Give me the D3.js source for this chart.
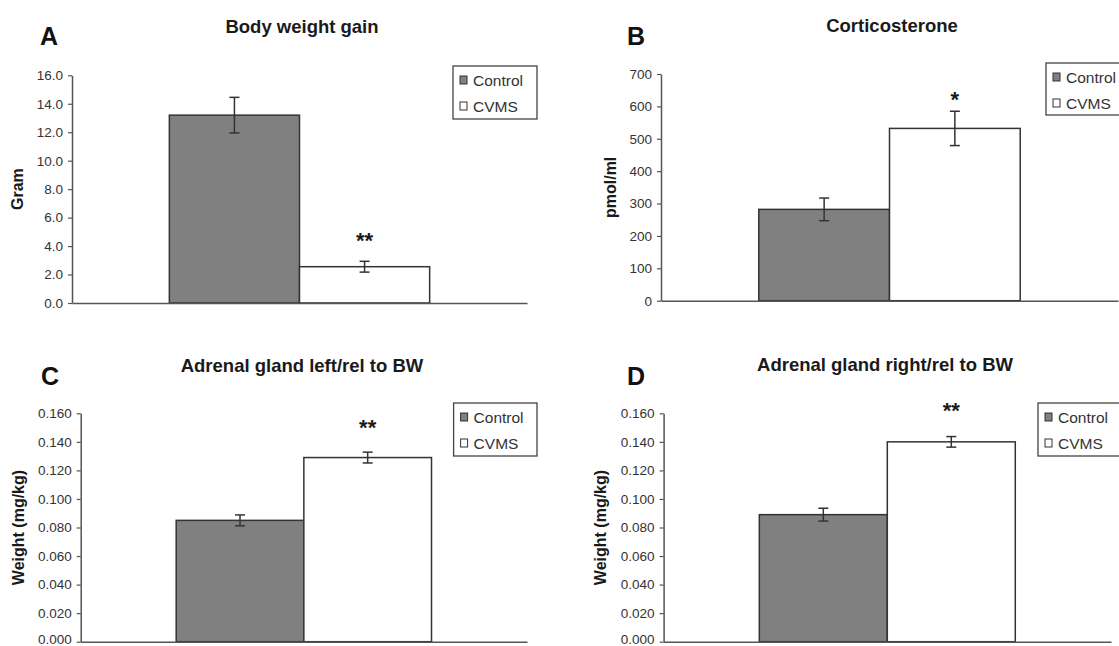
<!DOCTYPE html>
<html><head><meta charset="utf-8">
<script src="https://cdn.jsdelivr.net/npm/d3@7"></script>
<style>
html,body{margin:0;padding:0;background:#fff;}
svg{display:block;font-family:"Liberation Sans",Arial,sans-serif;}
</style></head>
<body>
<svg id="chart" width="1119" height="646"></svg>
<script>
// ---------- DATA ----------
const categories = ["Control", "CVMS"];

const bwGain    = [13.2, 2.55];
const bwGainErr = [1.25, 0.38];

const cort    = [282, 532];
const cortErr = [35, 53];

const adrLeft    = [0.085, 0.129];
const adrLeftErr = [0.0038, 0.0038];

const adrRight    = [0.089, 0.140];
const adrRightErr = [0.0045, 0.0037];

const ticksA = [0, 2, 4, 6, 8, 10, 12, 14, 16];
const ticksB = [0, 100, 200, 300, 400, 500, 600, 700];
const ticksC = [0, 0.02, 0.04, 0.06, 0.08, 0.10, 0.12, 0.14, 0.16];
const ticksD = [0, 0.02, 0.04, 0.06, 0.08, 0.10, 0.12, 0.14, 0.16];

const panelLetters = ["A", "B", "C", "D"];
const panelTitles = ["Body weight gain", "Corticosterone", "Adrenal gland left/rel to BW", "Adrenal gland right/rel to BW"];
const yLabels = ["Gram", "pmol/ml", "Weight (mg/kg)", "Weight (mg/kg)"];
const sigLabels = ["**", "*", "**", "**"];
const sigLevels = [4.8, 638, 0.1537, 0.1656];

// ---------- LAYOUT ----------
const panels = [
  {values: bwGain, errs: bwGainErr, ticks: ticksA, fmt: ".1f",
   L: {ax: 72, right: 527, top: 75.3, bot: 303, tx: 302, ty: 33, lx: 40, ly: 45, ylx: 17.5, lg: [453, 66, 84, 53]}},
  {values: cort, errs: cortErr, ticks: ticksB, fmt: "d",
   L: {ax: 661, right: 1118, top: 74, bot: 300.7, tx: 892, ty: 31.5, lx: 627, ly: 45, ylx: 610, lg: [1046, 63, 84, 52]}},
  {values: adrLeft, errs: adrLeftErr, ticks: ticksC, fmt: ".3f",
   L: {ax: 80.7, right: 527, top: 413.3, bot: 641.7, tx: 302, ty: 371.5, lx: 41, ly: 385, ylx: 18.5, lg: [453.6, 403, 83.4, 53]}},
  {values: adrRight, errs: adrRightErr, ticks: ticksD, fmt: ".3f",
   L: {ax: 663.6, right: 1111, top: 413.3, bot: 641.7, tx: 885, ty: 370.5, lx: 627, ly: 385, ylx: 600, lg: [1038, 403, 84, 53]}}
];

const fills = ["#808080", "#ffffff"];
const stroke = "#333";
const textCol = "#1a1a1a";

const svg = d3.select("#chart");

panels.forEach((p, i) => {
  const L = p.L;
  const g = svg.append("g");
  const y = d3.scaleLinear().domain([0, d3.max(p.ticks)]).range([L.bot, L.top]);
  const group = d3.scaleBand().domain(["g"]).range([L.ax, L.right]).paddingInner(0).paddingOuter(0.374);
  const x = d3.scaleBand().domain(categories).range([group("g"), group("g") + group.bandwidth()]).padding(0);

  // bars
  g.selectAll("rect.bar").data(categories).join("rect")
    .attr("class", "bar")
    .attr("x", d => x(d))
    .attr("y", (d, j) => y(p.values[j]))
    .attr("width", x.bandwidth())
    .attr("height", (d, j) => y(0) - y(p.values[j]))
    .attr("fill", (d, j) => fills[j])
    .attr("stroke", stroke).attr("stroke-width", 1.5);

  // error bars
  const cap = 5;
  categories.forEach((c, j) => {
    const cx = x(c) + x.bandwidth() / 2;
    const hi = y(p.values[j] + p.errs[j]), lo = y(p.values[j] - p.errs[j]);
    g.append("line").attr("x1", cx).attr("x2", cx).attr("y1", hi).attr("y2", lo).attr("stroke", stroke).attr("stroke-width", 1.5);
    g.append("line").attr("x1", cx - cap).attr("x2", cx + cap).attr("y1", hi).attr("y2", hi).attr("stroke", stroke).attr("stroke-width", 1.5);
    g.append("line").attr("x1", cx - cap).attr("x2", cx + cap).attr("y1", lo).attr("y2", lo).attr("stroke", stroke).attr("stroke-width", 1.5);
  });

  // significance
  g.append("text")
    .attr("x", x("CVMS") + x.bandwidth() / 2)
    .attr("y", y(sigLevels[i]) + 13)
    .attr("text-anchor", "middle")
    .attr("font-size", 22).attr("font-weight", "bold").attr("fill", textCol)
    .text(sigLabels[i]);

  // y axis
  const yAxis = d3.axisLeft(y).tickValues(p.ticks).tickFormat(d3.format(p.fmt)).tickSize(4).tickSizeOuter(0).tickPadding(5);
  const ya = g.append("g").attr("transform", `translate(${L.ax},0)`).call(yAxis);
  ya.select(".domain").attr("stroke", "#555").attr("stroke-width", 1.5);
  ya.selectAll(".tick line").attr("stroke", "#555").attr("stroke-width", 1.2);
  ya.selectAll(".tick text").attr("font-size", 13.5).attr("fill", "#333").attr("font-family", "Liberation Sans, Arial, sans-serif");
  // keep the lowest label inside the picture
  ya.selectAll(".tick text").filter(d => d === 0 && L.bot > 630).attr("y", -2.5);

  // x axis (line only)
  const xAxis = d3.axisBottom(group).tickSize(0).tickFormat("");
  const xa = g.append("g").attr("transform", `translate(0,${L.bot})`).call(xAxis);
  xa.select(".domain").attr("stroke", "#555").attr("stroke-width", 1.5);

  // title
  g.append("text").attr("x", L.tx).attr("y", L.ty).attr("text-anchor", "middle")
    .attr("font-size", 18.5).attr("font-weight", "bold").attr("fill", textCol)
    .text(panelTitles[i]);
  // panel letter
  g.append("text").attr("x", L.lx).attr("y", L.ly)
    .attr("font-size", 25).attr("font-weight", "bold").attr("fill", "#111")
    .text(panelLetters[i]);
  // y label
  g.append("text").attr("transform", `translate(${L.ylx},${(L.top + L.bot) / 2}) rotate(-90)`)
    .attr("text-anchor", "middle").attr("dy", "0.35em")
    .attr("font-size", 16).attr("font-weight", "bold").attr("fill", textCol)
    .text(yLabels[i]);

  // legend
  const [lx, ly, lw, lh] = L.lg;
  const lg = g.append("g");
  lg.append("rect").attr("x", lx).attr("y", ly).attr("width", lw).attr("height", lh)
    .attr("fill", "#fff").attr("stroke", "#444").attr("stroke-width", 1.3);
  categories.forEach((c, j) => {
    const cy = ly + 14 + j * 26;
    lg.append("rect").attr("x", lx + 7).attr("y", cy - 4).attr("width", 7).attr("height", 8)
      .attr("fill", fills[j]).attr("stroke", stroke).attr("stroke-width", 1);
    lg.append("text").attr("x", lx + 20).attr("y", cy).attr("dy", "0.36em")
      .attr("font-size", 15.5).attr("fill", "#333")
      .text(c);
  });
});
</script>
</body></html>
